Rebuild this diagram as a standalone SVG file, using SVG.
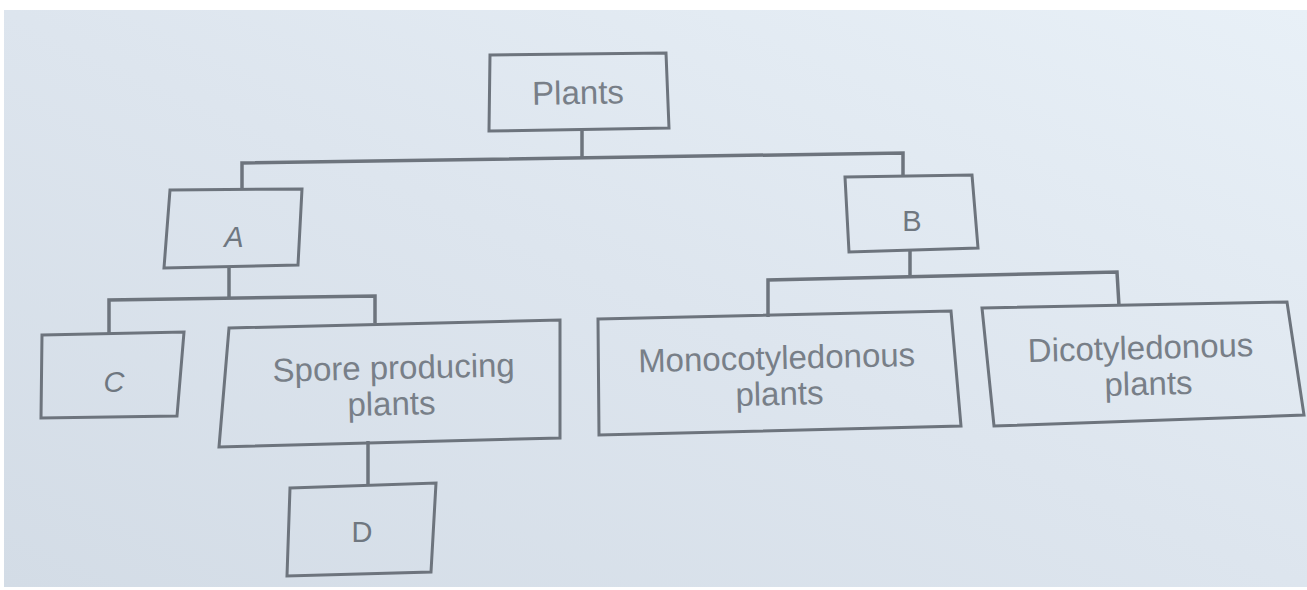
<svg xmlns="http://www.w3.org/2000/svg" width="1307" height="590" viewBox="0 0 1307 590">
<defs>
<linearGradient id="bg" x1="0" y1="1" x2="1" y2="0">
<stop offset="0" stop-color="#d3dce6"/>
<stop offset="0.5" stop-color="#dde5ee"/>
<stop offset="1" stop-color="#e8f0f7"/>
</linearGradient>
<style>
.box{fill:none;stroke:#6d747d;stroke-width:3;stroke-linejoin:miter}
.con{fill:none;stroke:#6d747d;stroke-width:3.5}
.t{font-family:"Liberation Sans",Arial,sans-serif;font-size:33px;fill:#787f88;text-anchor:middle}
.h{font-family:"Liberation Sans",Arial,sans-serif;font-size:29px;fill:#6f7780;text-anchor:middle}
</style>
</defs>
<rect x="0" y="0" width="1307" height="590" fill="#ffffff"/>
<rect x="4" y="10" width="1303" height="577" fill="url(#bg)"/>
<g id="connectors">
<path class="con" d="M582,130 L582,159"/>
<path class="con" d="M242,190 L242,163 L903,153 L903,177"/>
<path class="con" d="M229,266 L229,298"/>
<path class="con" d="M109,333 L109,300 L375,296 L375,323"/>
<path class="con" d="M368,441 L368,485"/>
<path class="con" d="M910,250 L910,277"/>
<path class="con" d="M768,317 L768,280 L1117,272 L1119,306"/>
</g>
<g id="plants">
<polygon class="box" points="490,55 666,53 669,128 489,131"/>
<text class="t" x="578" y="104" transform="rotate(-1 578 92)">Plants</text>
</g>
<g id="A">
<polygon class="box" points="170,190 302,189 298,265 164,268"/>
<text class="h" x="234" y="247" font-style="italic">A</text>
</g>
<g id="B">
<polygon class="box" points="845,177 972,175 978,248 849,252"/>
<text class="h" x="912" y="231">B</text>
</g>
<g id="C">
<polygon class="box" points="42,335 184,332 177,416 41,418"/>
<text class="h" x="114" y="392" font-style="italic">C</text>
</g>
<g id="spore">
<polygon class="box" points="229,328 560,320 560,438 219,447"/>
<text class="t" transform="rotate(-1.3 392 385)"><tspan x="394" y="379">Spore producing</tspan><tspan x="391" y="415">plants</tspan></text>
</g>
<g id="D">
<polygon class="box" points="290,488 436,483 431,572 287,576"/>
<text class="h" x="362" y="542">D</text>
</g>
<g id="mono">
<polygon class="box" points="598,319 951,311 961,426 599,435"/>
<text class="t" transform="rotate(-1.3 778 375)"><tspan x="777" y="369">Monocotyledonous</tspan><tspan x="779" y="405">plants</tspan></text>
</g>
<g id="dicot">
<polygon class="box" points="982,308 1287,302 1304,415 994,426"/>
<text class="t" transform="rotate(-1.5 1144 365)"><tspan x="1141" y="359">Dicotyledonous</tspan><tspan x="1148" y="395">plants</tspan></text>
</g>
</svg>
